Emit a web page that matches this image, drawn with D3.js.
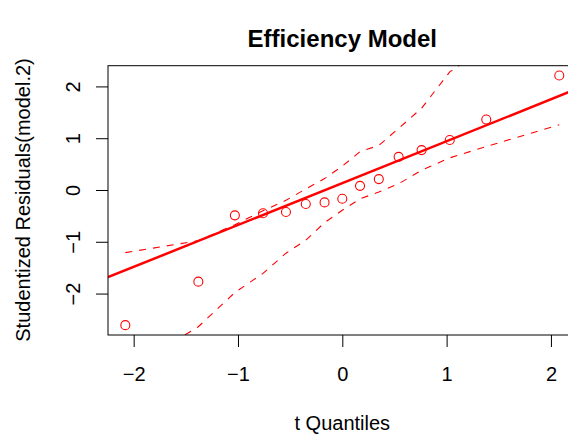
<!DOCTYPE html>
<html>
<head>
<meta charset="utf-8">
<script src="https://cdn.jsdelivr.net/npm/d3@7"></script>
<style>
  body { margin: 0; background: #ffffff; }
</style>
</head>
<body>
<div id="chart"></div>
<script>


// t quantiles (x) and studentized residuals (y), one entry per observation
var tQuantiles = [-2.08, -1.38, -1.03, -0.76, -0.54, -0.35, -0.17, 0, 0.17, 0.35, 0.54, 0.76, 1.03, 1.38, 2.08];
var residuals  = [-2.61, -1.77, -0.49, -0.45, -0.425, -0.27, -0.24, -0.17, 0.08, 0.21, 0.64, 0.77, 0.965, 1.36, 2.21];

// simulated confidence envelope, read at each quantile
var envUpper = [-1.21, -0.98, -0.67, -0.40, -0.20, 0.02, 0.22, 0.46, 0.74, 0.86, 1.19, 1.58, 2.28, 2.76, 3.6];
var envLower = [-3.5, -2.64, -1.98, -1.61, -1.22, -0.97, -0.63, -0.39, -0.17, -0.04, 0.12, 0.38, 0.62, 0.84, 1.26];

// reference line: intercept, slope
var refLine = [0.133, 0.809];

var xTicks = [-2, -1, 0, 1, 2];
var yTicks = [-2, -1, 0, 1, 2];

var titleText = "Efficiency Model";
var xLabel = "t Quantiles";
var yLabel = "Studentized Residuals(model.2)";



var W = 568, H = 437;
var plotL = 108, plotR = 576.6, plotT = 65.7, plotB = 335;
var fontFamily = "'Liberation Sans', Arial, Helvetica, sans-serif";
var red = "#ff0000";


var svg = d3.select("#chart").append("svg")
  .attr("width", W)
  .attr("height", H);

var x = d3.scaleLinear().domain([-2.246, 2.246]).range([plotL, plotR]);
var y = d3.scaleLinear().domain([-2.80, 2.40]).range([plotB, plotT]);


svg.append("defs").append("clipPath")
    .attr("id", "plotClip")
  .append("rect")
    .attr("x", plotL)
    .attr("y", plotT)
    .attr("width", plotR - plotL)
    .attr("height", plotB - plotT);


var plot = svg.append("g").attr("clip-path", "url(#plotClip)");


// envelope
function envLine(vals) {
  return d3.line()
    .x(function (d, i) { return x(tQuantiles[i]); })
    .y(function (d) { return y(d); })(vals);
}

[envUpper, envLower].forEach(function (vals) {
  plot.append("path")
    .attr("d", envLine(vals))
    .attr("fill", "none")
    .attr("stroke", red)
    .attr("stroke-width", 1.1)
    .attr("stroke-dasharray", "7,7");
});


// reference line across the whole plot region
var xd = x.domain();
plot.append("line")
  .attr("x1", x(xd[0]))
  .attr("y1", y(refLine[0] + refLine[1] * xd[0]))
  .attr("x2", x(xd[1]))
  .attr("y2", y(refLine[0] + refLine[1] * xd[1]))
  .attr("stroke", red)
  .attr("stroke-width", 2.5);


// points
plot.selectAll("circle.pt")
  .data(residuals)
  .enter().append("circle")
    .attr("class", "pt")
    .attr("cx", function (d, i) { return x(tQuantiles[i]); })
    .attr("cy", function (d) { return y(d); })
    .attr("r", 4.5)
    .attr("fill", "none")
    .attr("stroke", red)
    .attr("stroke-width", 1.1);


// box
svg.append("rect")
  .attr("x", plotL)
  .attr("y", plotT)
  .attr("width", plotR - plotL)
  .attr("height", plotB - plotT)
  .attr("fill", "none")
  .attr("stroke", "#000")
  .attr("stroke-width", 1);


// axes
var fmt = d3.format("d");

var xAxis = svg.append("g")
  .attr("transform", "translate(0," + plotB + ")")
  .call(d3.axisBottom(x).tickValues(xTicks).tickFormat(fmt).tickSize(12).tickSizeOuter(0));

var yAxis = svg.append("g")
  .attr("transform", "translate(" + plotL + ",0)")
  .call(d3.axisLeft(y).tickValues(yTicks).tickFormat(fmt).tickSize(12).tickSizeOuter(0));

[xAxis, yAxis].forEach(function (ax) {
  ax.select(".domain").remove();
  ax.selectAll(".tick line").attr("stroke", "#000");
  ax.selectAll("text")
    .attr("font-family", fontFamily)
    .attr("font-size", 20)
    .attr("fill", "#000")
    .attr("dy", null);
});

xAxis.selectAll("text")
  .attr("y", 46);

yAxis.selectAll("text")
  .attr("transform", "rotate(-90)")
  .attr("text-anchor", "middle")
  .attr("x", 0)
  .attr("y", -28);


// labels
svg.append("text")
  .attr("x", 342.3)
  .attr("y", 47)
  .attr("text-anchor", "middle")
  .attr("font-family", fontFamily)
  .attr("font-size", 24)
  .attr("font-weight", "bold")
  .text(titleText);

svg.append("text")
  .attr("x", 342.3)
  .attr("y", 430)
  .attr("text-anchor", "middle")
  .attr("font-family", fontFamily)
  .attr("font-size", 20)
  .text(xLabel);

svg.append("text")
  .attr("transform", "translate(30,200) rotate(-90)")
  .attr("text-anchor", "middle")
  .attr("font-family", fontFamily)
  .attr("font-size", 20)
  .text(yLabel);

</script>
</body>
</html>
